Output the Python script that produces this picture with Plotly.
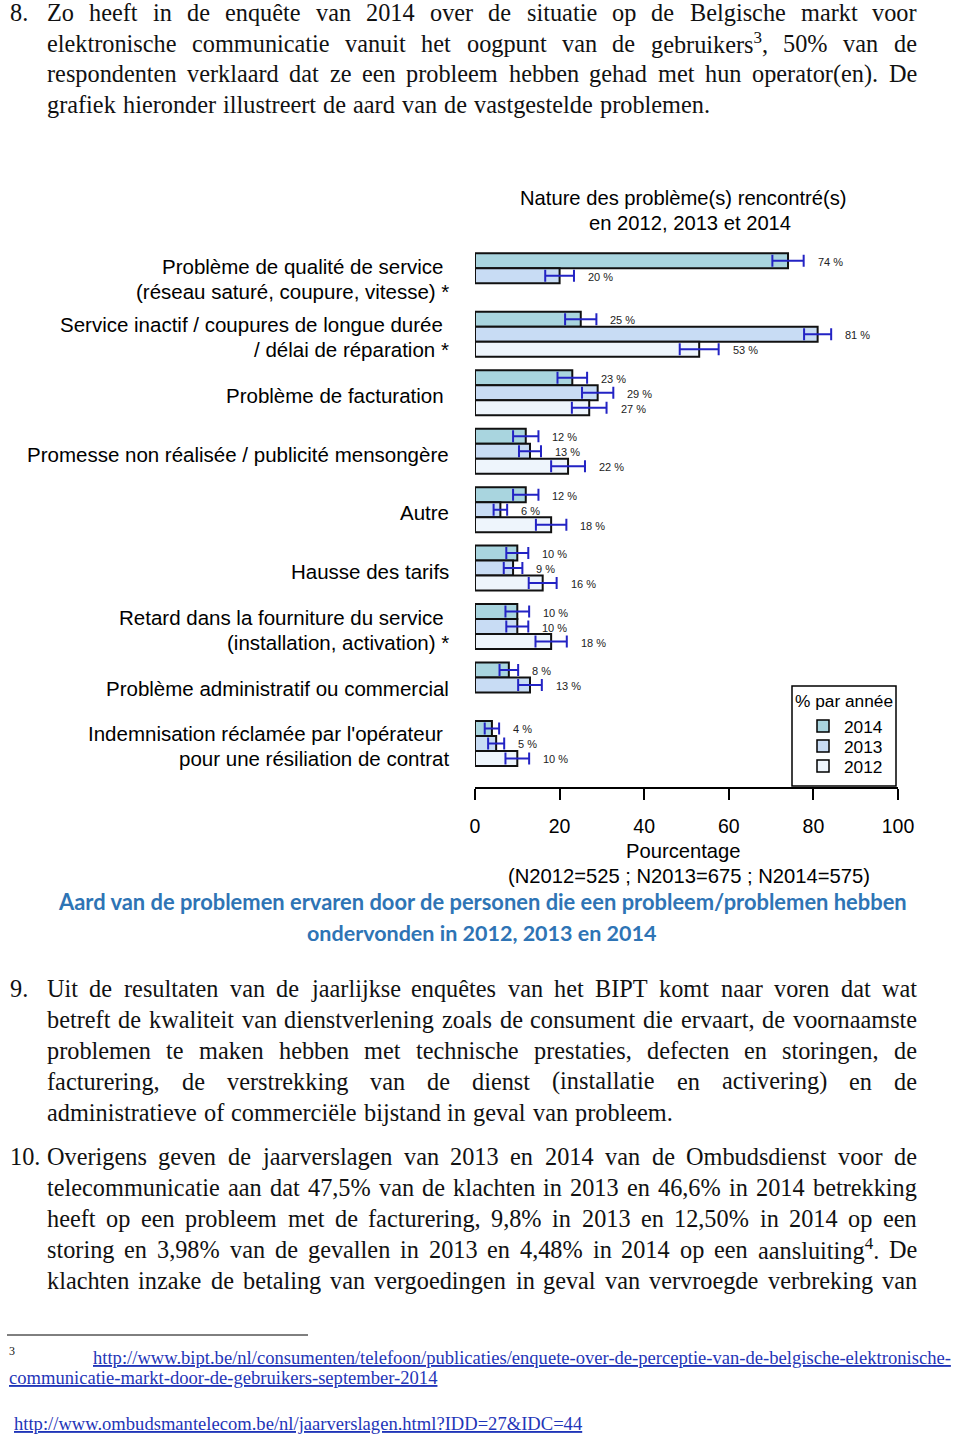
import re
import plotly.graph_objects as go

W, H = 960, 1439

# ---------------- data ----------------
categories = [
    "Problème de qualité de service\u00a0<br>(réseau saturé, coupure, vitesse) *",
    "Service inactif / coupures de longue durée\u00a0<br>/ délai de réparation *",
    "Problème de facturation\u00a0",
    "Promesse non réalisée / publicité mensongère",
    "Autre",
    "Hausse des tarifs",
    "Retard dans la fourniture du service\u00a0<br>(installation, activation) *",
    "Problème administratif ou commercial",
    "Indemnisation réclamée par l'opérateur\u00a0<br>pour une résiliation de contrat",
]
years = ["2014", "2013", "2012"]
val_2014 = [74, 25, 23, 12, 12, 10, 10, 8, 4]
val_2013 = [20, 81, 29, 13, 6, 9, 10, 13, 5]
val_2012 = [None, 53, 27, 22, 18, 16, 18, None, 10]
err_2014 = [3.7, 3.7, 3.5, 3.0, 3.0, 2.6, 2.8, 2.2, 1.7]
err_2013 = [3.4, 3.2, 3.7, 2.6, 1.6, 2.2, 2.6, 2.8, 1.9]
err_2012 = [None, 4.6, 4.1, 4.0, 3.6, 3.3, 3.7, None, 2.8]
x_ticks = [0, 20, 40, 60, 80, 100]

values = [val_2014, val_2013, val_2012]
errors = [err_2014, err_2013, err_2012]
colors = ["#a9d5df", "#c8dcf4", "#eef5fc"]

SANS = "Liberation Sans, Arial, sans-serif"
SERIF = "Liberation Serif, Times New Roman, serif"

def px(x):
    return x / W

def py(y):
    return 1 - y / H

fig = go.Figure()

BW = 15 / 58.46  # bar thickness in category units
for yr, vals, errs, col in zip(years, values, errors, colors):
    fig.add_trace(go.Bar(
        y=categories, x=vals, orientation="h", name=yr,
        marker=dict(color=col, line=dict(color="#111111", width=2)),
        error_x=dict(type="data", array=errs, symmetric=True,
                     color="#2323c4", thickness=2, width=6),
        showlegend=False, hoverinfo="skip",
    ))

annotations = []
shapes = []

# value labels
for j, (vals, errs) in enumerate(zip(values, errors)):
    for i, (v, e) in enumerate(zip(vals, errs)):
        if v is None:
            continue
        yy = i + (j - 1) * BW
        if v + e > 85:
            annotations.append(dict(x=v - e, y=yy, xref="x", yref="y", text=f"{v} %",
                                    xanchor="right", yanchor="middle", xshift=-13, yshift=-1,
                                    showarrow=False, font=dict(family=SANS, size=11, color="#222")))
        else:
            annotations.append(dict(x=v + e, y=yy, xref="x", yref="y", text=f"{v} %",
                                    xanchor="left", yanchor="middle", xshift=12, yshift=-1,
                                    showarrow=False, font=dict(family=SANS, size=11, color="#222")))

# category labels (each line placed separately, 25 px line pitch)
for i, c in enumerate(categories):
    parts = c.split("<br>")
    n = len(parts)
    for k, part in enumerate(parts):
        annotations.append(dict(x=px(451), y=i, xref="paper", yref="y", text=part,
                                xanchor="right", yanchor="middle", align="right",
                                yshift=-3 - (k - (n - 1) / 2) * 25,
                                showarrow=False, font=dict(family=SANS, size=20.5, color="black")))

def txt(x, y, s, size, family, color="black", xanchor="left", align="left", weight=None):
    f = dict(family=family, size=size, color=color)
    if weight:
        f["weight"] = weight
    annotations.append(dict(x=px(x), y=py(y), xref="paper", yref="paper", text=s,
                            xanchor=xanchor, yanchor="middle", align=align,
                            showarrow=False, font=f))

# chart title & axis texts
txt(683, 198, "Nature des problème(s) rencontré(s)", 20.2, SANS, xanchor="center")
txt(690, 223, "en 2012, 2013 et 2014", 20.2, SANS, xanchor="center")
txt(683, 851, "Pourcentage", 20.2, SANS, xanchor="center")
txt(689, 876, "(N2012=525 ; N2013=675 ; N2014=575)", 20.2, SANS, xanchor="center")

# legend (drawn)
shapes.append(dict(type="rect", xref="paper", yref="paper", x0=px(792), x1=px(896),
                   y0=py(786), y1=py(686), line=dict(color="black", width=1.5),
                   fillcolor="white", layer="above"))
txt(844, 701, "% par année", 17.3, SANS, xanchor="center")
for k, (yr, col) in enumerate(zip(years, colors)):
    yc = 726 + 20 * k
    shapes.append(dict(type="rect", xref="paper", yref="paper", x0=px(817), x1=px(829),
                       y0=py(yc + 6), y1=py(yc - 6), line=dict(color="black", width=1.5),
                       fillcolor=col, layer="above"))
    txt(842, yc + 1, yr, 17.3, SANS)

# caption
CAP = "Lato, Open Sans, sans-serif"
txt(482, 901, "Aard van de problemen ervaren door de personen die een probleem/problemen hebben",
    21.9, CAP, color="#2e74b5", xanchor="center", weight="bold")
txt(481, 933, "ondervonden in 2012, 2013 en 2014", 21.5, CAP, color="#2e74b5",
    xanchor="center", weight="bold")

# ---------------- body text (justified) ----------------
TIMES = {
    " ": 250, "a": 444, "b": 500, "c": 444, "d": 500, "e": 444, "f": 333, "g": 500, "h": 500,
    "i": 278, "j": 278, "k": 500, "l": 278, "m": 778, "n": 500, "o": 500, "p": 500, "q": 500,
    "r": 333, "s": 389, "t": 278, "u": 500, "v": 500, "w": 722, "x": 500, "y": 500, "z": 444,
    "A": 722, "B": 667, "C": 667, "D": 722, "E": 611, "F": 556, "G": 722, "H": 722, "I": 333,
    "J": 389, "K": 722, "L": 611, "M": 889, "N": 722, "O": 722, "P": 556, "Q": 722, "R": 667,
    "S": 556, "T": 611, "U": 722, "V": 722, "W": 944, "X": 722, "Y": 722, "Z": 611,
    ".": 250, ",": 250, "%": 833, "(": 333, ")": 333, "/": 278, "-": 333, ":": 278, "?": 444,
    "=": 564, "&": 778, "_": 500, "é": 444, "è": 444, "ê": 444, "ë": 444,
}

def em_width(s):
    sups = "".join(re.findall(r"<sup>(.*?)</sup>", s))
    base = re.sub(r"<sup>.*?</sup>", "", s)
    base = re.sub(r"<.*?>", "", base)
    w = sum(TIMES.get(ch, 500) for ch in base) + 0.7 * sum(TIMES.get(ch, 500) for ch in sups)
    return w / 1000.0

BODY_FS = 24.3

def place_line(line, y, justify, left=45, right=915, fs=BODY_FS):
    words = line.split(" ")
    n = len(words)
    while True:
        ws = [em_width(w) * fs for w in words]
        total = sum(ws)
        space = 0.25 * fs
        if justify and n > 1:
            gap = (right - left - total) / (n - 1)
            if gap < 0.55 * space:
                fs = fs * (right - left) / (total + 0.55 * space * (n - 1))
                continue
        else:
            gap = space * 1.15
        break
    x = left
    for w, wd in zip(words, ws):
        txt(x, y, w, fs, SERIF, color="#111")
        x += wd + gap

para8 = [
    "Zo heeft in de enquête van 2014 over de situatie op de Belgische markt voor",
    "elektronische communicatie vanuit het oogpunt van de gebruikers<sup>3</sup>, 50% van de",
    "respondenten verklaard dat ze een probleem hebben gehad met hun operator(en). De",
    "grafiek hieronder illustreert de aard van de vastgestelde problemen.",
]
para9 = [
    "Uit de resultaten van de jaarlijkse enquêtes van het BIPT komt naar voren dat wat",
    "betreft de kwaliteit van dienstverlening zoals de consument die ervaart, de voornaamste",
    "problemen te maken hebben met technische prestaties, defecten en storingen, de",
    "facturering, de verstrekking van de dienst (installatie en activering) en de",
    "administratieve of commerciële bijstand in geval van probleem.",
]
para10 = [
    "Overigens geven de jaarverslagen van 2013 en 2014 van de Ombudsdienst voor de",
    "telecommunicatie aan dat 47,5% van de klachten in 2013 en 46,6% in 2014 betrekking",
    "heeft op een probleem met de facturering, 9,8% in 2013 en 12,50% in 2014 op een",
    "storing en 3,98% van de gevallen in 2013 en 4,48% in 2014 op een aansluiting<sup>4</sup>. De",
    "klachten inzake de betaling van vergoedingen in geval van vervroegde verbreking van",
]

for num, lines, y0, last_justified in [("8.", para8, 12, False), ("9.", para9, 988, False),
                                       ("10.", para10, 1156, True)]:
    txt(8, y0, num, BODY_FS, SERIF, color="#111")
    for k, line in enumerate(lines):
        justify = (k < len(lines) - 1) or last_justified
        place_line(line, y0 + 31 * k, justify)

# ---------------- footnotes ----------------
shapes.append(dict(type="line", xref="paper", yref="paper", x0=px(7), x1=px(308),
                   y0=py(1335), y1=py(1335), line=dict(color="black", width=1)))
link1 = "http://www.bipt.be/nl/consumenten/telefoon/publicaties/enquete-over-de-perceptie-van-de-belgische-elektronische-"
link1b = "communicatie-markt-door-de-gebruikers-september-2014"
link2 = "http://www.ombudsmantelecom.be/nl/jaarverslagen.html?IDD=27&IDC=44"
LINK_FS = 860 / em_width(link1)
LINK_COL = "#1f35b8"
txt(7, 1351, "3", 12, SERIF, color="#111")
txt(953, 1357, "<u>" + link1 + "</u>", LINK_FS, SERIF, color=LINK_COL, xanchor="right")
txt(7, 1377, "<u>" + link1b + "</u>", LINK_FS, SERIF, color=LINK_COL)
txt(12, 1423, "<u>" + link2.replace("&", "&amp;") + "</u>", LINK_FS, SERIF, color=LINK_COL)

# ---------------- layout ----------------
fig.update_layout(
    template="none",
    width=W, height=H, autosize=False,
    margin=dict(l=0, r=0, t=0, b=0, pad=0, autoexpand=False),
    paper_bgcolor="white", plot_bgcolor="white",
    barmode="group", bargap=1 - 3 * BW, bargroupgap=0,
    showlegend=False,
    xaxis=dict(domain=[px(475), px(898)], range=[0, 100], tickvals=x_ticks,
               automargin=False,
               showgrid=False, zeroline=False, showline=True, linecolor="black",
               linewidth=2, ticks="outside", ticklen=11, tickwidth=2, tickcolor="black",
               ticklabelstandoff=10,
               tickfont=dict(family=SANS, size=19.5, color="black"), fixedrange=True),
    yaxis=dict(domain=[py(787), py(245)], type="category", automargin=False,
               range=[(787 - 275.8) / 58.46, (245 - 275.8) / 58.46],
               visible=False, fixedrange=True),
    annotations=annotations,
    shapes=shapes,
)

POST = ("document.documentElement.style.margin='0';document.documentElement.style.padding='0';"
        "document.documentElement.style.overflow='hidden';"
        "document.body.style.margin='0';document.body.style.padding='0';"
        "document.body.style.overflow='hidden';"
        "var gd=document.getElementById('{plot_id}');"
        "gd.style.overflow='hidden';")

fig.write_html("out.html", config={"responsive": False, "displayModeBar": False},
               post_script=POST)
